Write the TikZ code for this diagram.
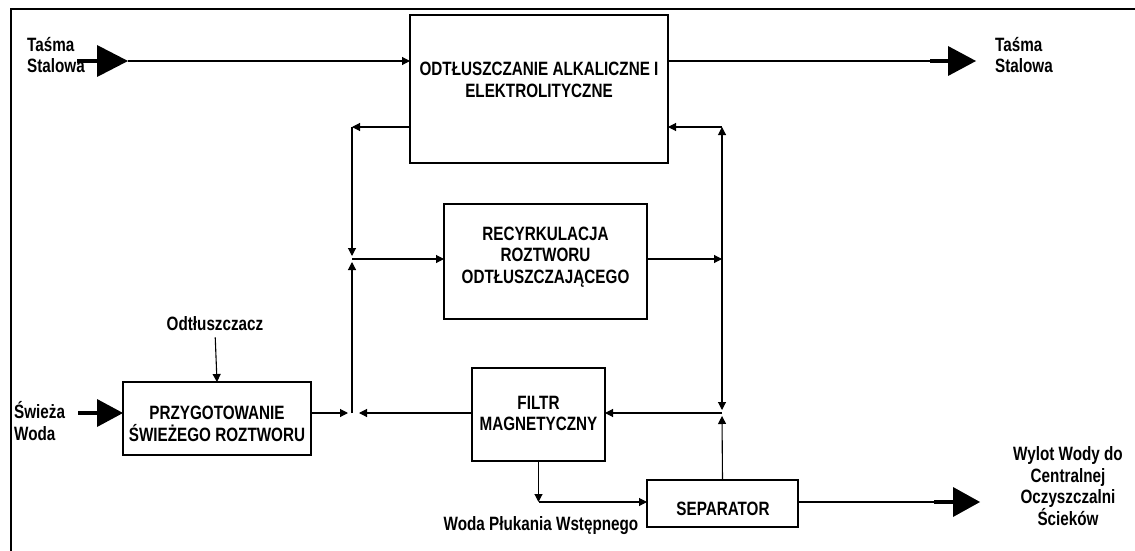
\documentclass[tikz,border=0pt]{standalone}
\usepackage{fontspec}
\setmainfont{Liberation Sans}[FakeStretch=0.79]
\usetikzlibrary{arrows.meta}
\tikzset{
  box/.style={draw, line width=2.6pt, inner sep=0pt, outer sep=0pt},
  txt/.style={font=\bfseries\fontsize{19.3}{21.5}\selectfont, align=center, inner sep=0pt},
  conn/.style={line width=1.1pt, -{Triangle[length=8pt,width=8pt]}},
  plain/.style={line width=1.1pt},
  shaft/.style={line width=4pt},
  frame/.style={line width=2.2pt}
}
\begin{document}
\begin{tikzpicture}[x=1pt,y=-1pt]
\useasboundingbox (0,0) rectangle (1135,551);
% frame
\draw[frame] (11,551) -- (11,9) -- (1135,9);

% boxes
\node[box, minimum width=258pt, minimum height=148pt] (odt) at (539,89) {};
\node[txt] at (539,80) {ODTŁUSZCZANIE ALKALICZNE I\\ELEKTROLITYCZNE};
\node[box, minimum width=203pt, minimum height=115pt] (rec) at (545.5,261.5) {};
\node[txt] at (545.5,257) {RECYRKULACJA\\ROZTWORU\\ODTŁUSZCZAJĄCEGO};
\node[box, minimum width=133pt, minimum height=93pt] (filt) at (538.5,414.5) {};
\node[txt] at (538.5,413.5) {FILTR\\MAGNETYCZNY};
\node[box, minimum width=188pt, minimum height=73pt] (przy) at (217,418.5) {};
\node[txt] at (217,424) {PRZYGOTOWANIE\\ŚWIEŻEGO ROZTWORU};
\node[box, minimum width=151pt, minimum height=47pt] (sep) at (722.5,503.5) {};
\node[txt] at (723,508.5) {SEPARATOR};

% labels
\node[txt, align=left, anchor=west] (tasin) at (27,55) {Taśma\\Stalowa};
\node[txt, align=left, anchor=west] (tasout) at (995,55) {Taśma\\Stalowa};
\node[txt, align=left, anchor=west] (swiez) at (14,421) {Świeża\\Woda};
\node[txt] (odtl) at (215,324) {Odtłuszczacz};
\node[txt] (woda) at (541,526) {Woda Płukania Wstępnego};
\node[txt] (wylot) at (1068,486) {Wylot Wody do\\Centralnej\\Oczyszczalni\\Ścieków};

% coordinates
\coordinate (tinS) at (77,61);
\coordinate (tinM) at (100,61);
\coordinate (tinE) at (128,61);
\coordinate (toutS) at (930,61);
\coordinate (toutM) at (951,61);
\coordinate (jL1) at (352,127);
\coordinate (jL2) at (352,259);
\coordinate (jL2a) at (352,256);
\coordinate (jL2b) at (352,262);
\coordinate (jL3) at (352,413);
\coordinate (jL3l) at (348,413);
\coordinate (jL3r) at (359,413);
\coordinate (jR1) at (722,127);
\coordinate (jR2) at (722,259);
\coordinate (jR3) at (722,413);
\coordinate (jR3a) at (722,410);
\coordinate (jR3b) at (722,416);
\coordinate (fb) at (538.5,502);
\coordinate (soutS) at (934,502);
\coordinate (soutM) at (955,502);
\coordinate (swS) at (78,413);
\coordinate (swM) at (100,413);

% steel strip in
\draw[shaft] (tinS) -- (tinM);
\fill (97,45) -- (tinE) -- (97,77) -- cycle;
\draw[conn] (tinE) -- (tinE -| odt.west);
% steel strip out
\draw[plain] (toutS -| odt.east) -- (toutS);
\draw[shaft] (toutS) -- (toutM);
\fill (948,46) -- (976,61) -- (948,76) -- cycle;

% left loop
\draw[conn] (jL1 -| odt.west) -- (jL1);
\draw[conn] (jL1) -- (jL2a);
\draw[conn] (jL3) -- (jL2b);
\draw[conn] (jL2) -- (jL2 -| rec.west);
% right loop
\draw[conn] (jL2 -| rec.east) -- (jR2);
\draw[conn] (jR2) -- (jR1);
\draw[conn] (jR1) -- (jR1 -| odt.east);
\draw[conn] (jR2) -- (jR3a);
\draw[conn] (sep.north) -- (jR3b);
\draw[conn] (jR3) -- (jR3 -| filt.east);
% bottom-left
\draw[conn] (jL3 -| przy.east) -- (jL3l);
\draw[conn] (jL3 -| filt.west) -- (jL3r);
\draw[conn] (filt.south) -- (fb);
\draw[conn] (fb) -- (fb -| sep.west);
% outlet
\draw[plain] (soutS -| sep.east) -- (soutS);
\draw[shaft] (soutS) -- (soutM);
\fill (953,487) -- (980,502) -- (953,517) -- cycle;
% degreaser
\draw[conn, shorten <=6pt] (odtl.south) -- (przy.north);
% fresh water
\draw[shaft] (swS) -- (swM);
\fill (97,399) -- (przy.west |- swS) -- (97,427) -- cycle;
\end{tikzpicture}
\end{document}
